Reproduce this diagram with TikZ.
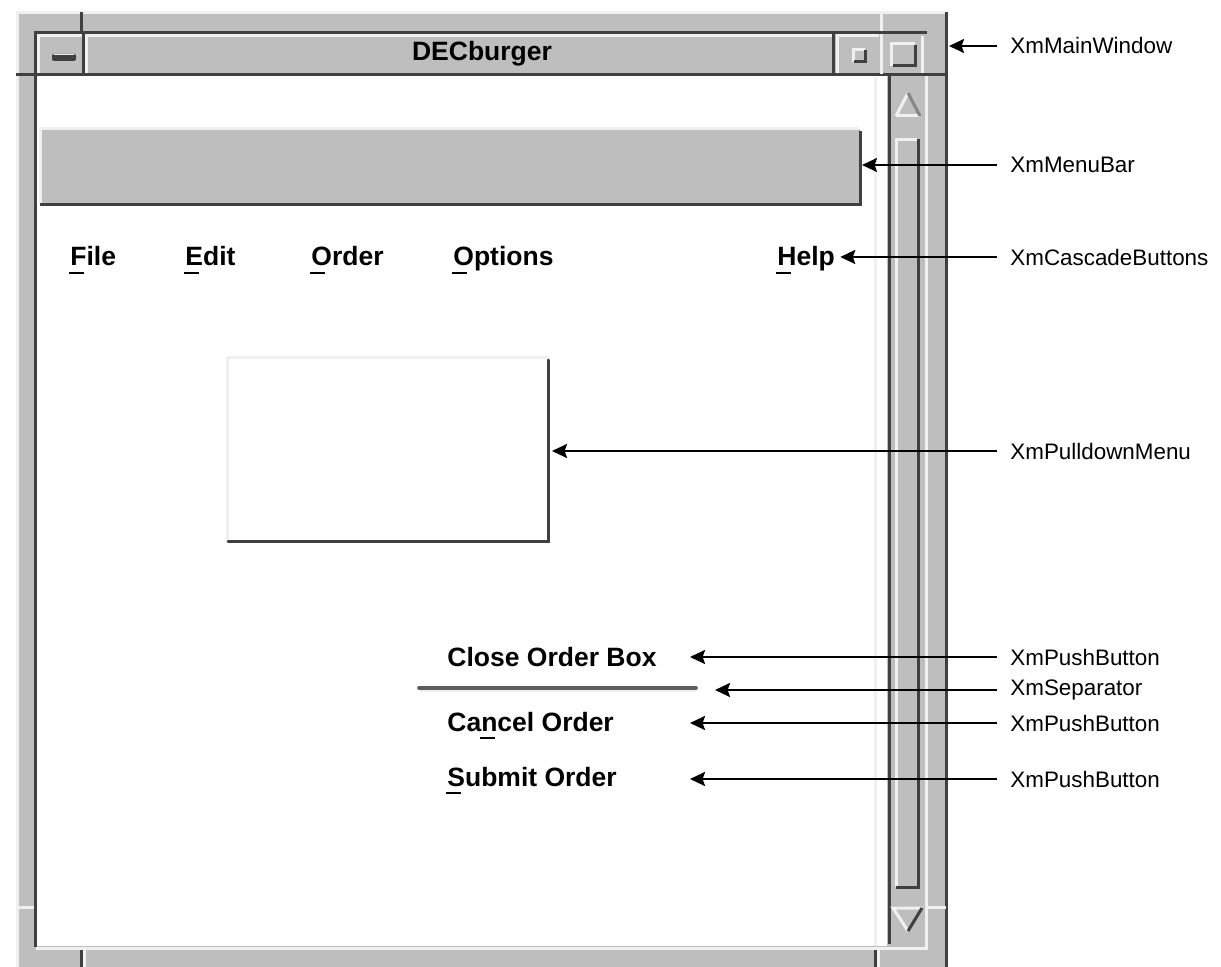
\documentclass[tikz,border=0pt]{standalone}
\usepackage{fontspec}
\setmainfont{Liberation Sans}
\usetikzlibrary{arrows.meta}

\definecolor{motifgray}{HTML}{BEBEBE}
\definecolor{motifdark}{HTML}{404040}
\definecolor{motiflight}{HTML}{F0F0F0}
\newcommand{\mnem}[1]{\rlap{\kern-0.05em\rule[-0.32em]{0.55em}{0.08em}}#1}

\begin{document}
\begin{tikzpicture}[x=0.5pt, y=-0.5pt,
    lite/.style={draw=motiflight, line width=1.5pt},
    dark/.style={draw=motifdark, line width=1.5pt},
    mtext/.style={font=\fontsize{13.25}{15}\selectfont\bfseries, anchor=base west, inner sep=0pt},
    wlabel/.style={font=\fontsize{11.2}{13}\selectfont, anchor=west, inner xsep=6.5pt, inner ysep=0pt},
    ptr/.style={-{Stealth[length=7.5pt, width=7pt, inset=1.2pt]}, line width=1.1pt}]
    \useasboundingbox (0,0) rectangle (1221,967);

    % window frame
    \fill[motifgray] (16,12) rectangle (948,967);
    \draw[lite] (17,967) -- (17,13) -- (946,13);
    \draw[dark] (946,12) -- (946,967);
    \draw[dark] (81,12) -- (81,33);
    \draw[lite] (881,12) -- (881,33);
    \draw[dark] (16,75) -- (35,75);
    \draw[dark] (925,75) -- (946,75);
    \draw[lite] (16,907) -- (35,907);
    \draw[lite] (927,907) -- (946,907);
    \draw[dark] (81,949) -- (81,967);
    \draw[lite] (84,949) -- (84,967);
    \draw[dark] (875,949) -- (875,967);
    \draw[lite] (878,949) -- (878,967);

    % work area
    \fill[white] (37,76) rectangle (887,946);
    \draw[dark] (35,947) -- (35,33) -- (927,33);
    \draw[lite] (36,948) -- (926,948) -- (926,76);
    \draw[lite] (875,77) -- (875,946);

    % title bar
    \fill[motifgray] (37,35) rectangle (925,74);
    \draw[dark] (35,75) -- (927,75);
    \draw[lite] (38,73) -- (38,36) -- (82,36);
    \draw[dark] (83,34) -- (83,74);
    \draw[lite] (86,73) -- (86,36) -- (832,36);
    \draw[dark] (833,34) -- (833,74);
    \draw[lite] (837,73) -- (837,36) -- (879,36);
    \draw[lite] (881,74) -- (881,34);
    \draw[lite] (922,36) -- (922,73);
    \fill[motifdark, rounded corners=1pt] (52,54) rectangle (76,61);
    \draw[motiflight, line width=0.8pt] (54,54.5) -- (74,54.5);
    \draw[lite] (853,62) -- (853,50) -- (865,50);
    \draw[dark] (854,62) -- (865,62) -- (865,50);
    \draw[lite] (891,66) -- (891,44) -- (915,44);
    \draw[dark] (893,66) -- (915,66) -- (915,45);
    \node[font=\fontsize{13.25}{15}\selectfont\bfseries, inner sep=0pt] (title) at (482,54) {DECburger};

    % scroll bar
    \fill[motifgray] (887,76) rectangle (925,946);
    \draw[dark] (889,76) -- (889,944);
    \draw[lite] (896,887) -- (896,140) -- (917,140);
    \draw[dark] (918,139) -- (918,887) -- (896,887);
    \draw[lite] (896,116) -- (908,93);
    \draw[lite] (896,116) -- (920,116);
    \draw[draw=motifgray!70!black, line width=1.5pt] (908,93) -- (920,116);
    \draw[lite] (908,931) -- (893,908) -- (922,908);
    \draw[dark] (922,908) -- (908,931);

    % menu bar
    \fill[motifgray] (40,129) rectangle (860,204);
    \draw[lite] (40,204) -- (40,129) -- (859,129);
    \draw[dark] (860,131) -- (860,205) -- (40,205);

    % pulldown menu
    \fill[white] (226,358) rectangle (549,541);
    \draw[lite] (227,541) -- (227,358) -- (548,358);
    \draw[dark, line cap=round] (548,360) -- (548,542) -- (228,542);

    % cascade buttons and menu entries
    \node[mtext] (file) at (70,266) {\mnem{F}ile};
    \node[mtext] (edit) at (185,266) {\mnem{E}dit};
    \node[mtext] (order) at (311,266) {\mnem{O}rder};
    \node[mtext] (options) at (453,266) {\mnem{O}ptions};
    \node[mtext] (help) at (777,266) {\mnem{H}elp};
    \node[mtext] (close) at (447,667) {Close Order Box};
    \draw[motifdark!85, line width=1.8pt, line cap=round] (419,688) -- (696,688);
    \draw[lite, line width=1pt] (420,691) -- (697,691);
    \node[mtext] (cancel) at (447,731) {Ca\mnem{n}cel Order};
    \node[mtext] (submit) at (447,786) {\mnem{S}ubmit Order};

    % arrow targets
    \coordinate (mainwin) at (949,46);
    \coordinate (menubar) at (862,166);
    \coordinate (pulldown) at (552,451);
    \coordinate (entries) at (690,700);
    \coordinate (separator) at (715,690);

    % widget class labels
    \node[wlabel] (lmain) at (997,46) {XmMainWindow};
    \node[wlabel] (lmenubar) at (997,165) {XmMenuBar};
    \node[wlabel] (lcascade) at (997,257) {XmCascadeButtons};
    \node[wlabel] (lpulldown) at (997,451) {XmPulldownMenu};
    \node[wlabel] (lclose) at (997,657) {XmPushButton};
    \node[wlabel] (lsep) at (997,690) {XmSeparator};
    \node[wlabel] (lcancel) at (997,723) {XmPushButton};
    \node[wlabel] (lsubmit) at (997,779) {XmPushButton};

    \draw[ptr] (lmain.west) -- (lmain.west -| mainwin);
    \draw[ptr] (lmenubar.west) -- (lmenubar.west -| menubar);
    \draw[ptr, shorten >=2.5pt] (lcascade.west) -- (lcascade.west -| help.east);
    \draw[ptr] (lpulldown.west) -- (lpulldown.west -| pulldown);
    \draw[ptr] (lclose.west) -- (lclose.west -| entries);
    \draw[ptr] (lsep.west) -- (lsep.west -| separator);
    \draw[ptr] (lcancel.west) -- (lcancel.west -| entries);
    \draw[ptr] (lsubmit.west) -- (lsubmit.west -| entries);
\end{tikzpicture}
\end{document}
